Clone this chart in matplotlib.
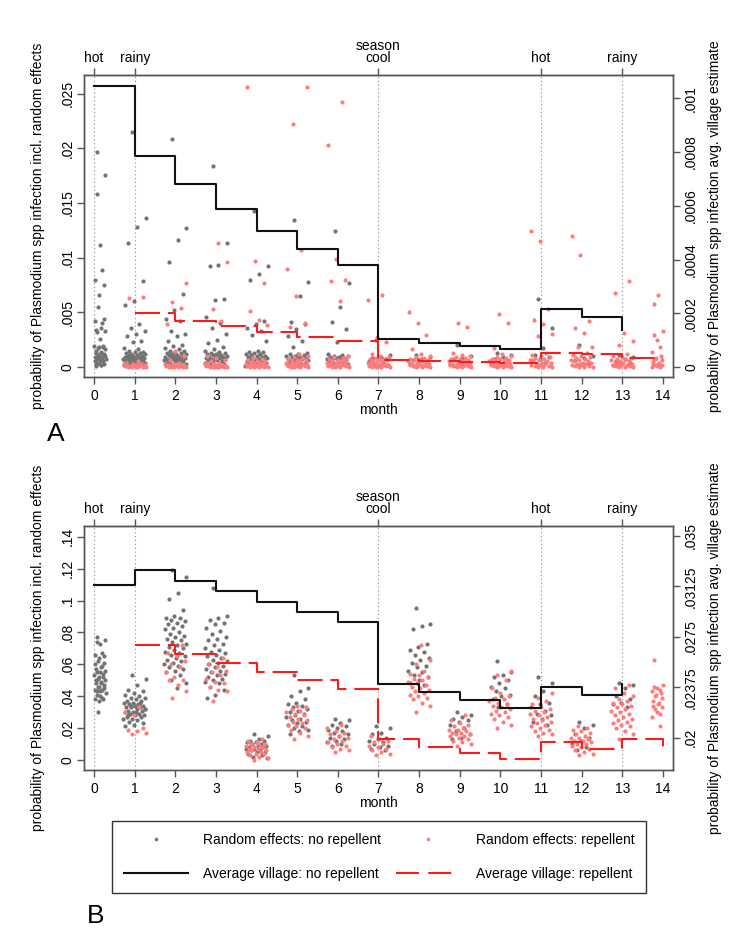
import numpy as np
import matplotlib.pyplot as plt
from matplotlib.lines import Line2D

plt.rcParams['font.family'] = ['Liberation Sans', 'DejaVu Sans']
plt.rcParams['font.size'] = 10

months = np.arange(15)
season_ticks = [0, 1, 7, 11, 13]
season_labels = ['hot', 'rainy', 'cool', 'hot', 'rainy']

# average village estimates (right axis); no repellent: months 0-13, repellent: months 1-14
a_avg_norep = [0.001046, 0.000785, 0.000681, 0.000587, 0.000507, 0.000440, 0.000381,
               0.000104, 0.0000905, 0.0000794, 0.0000682, 0.000215, 0.000187, 0.000138]
a_avg_rep = [0.000200, 0.000172, 0.000153, 0.000129, 0.000113, 0.0000968, 0.000026,
             0.0000223, 0.0000186, 0.0000149, 0.0000532, 0.0000472, 0.0000347, 0.0000335]
b_avg_norep = [0.03138, 0.03247, 0.03165, 0.03089, 0.03011, 0.02935, 0.02863,
               0.02402, 0.02342, 0.02280, 0.02223, 0.02377, 0.02315, 0.02397]
b_avg_rep = [0.02689, 0.02622, 0.02558, 0.02489, 0.02427, 0.02364, 0.01988,
             0.01933, 0.01886, 0.01839, 0.01966, 0.01918, 0.01988, 0.01933]

# village random effects, values in thousandths (x 1e-3)
a_gray = {
    0: [19.7, 17.6, 15.8, 11.2, 8.9, 8.0, 7.5, 6.6, 5.5, 4.4, 4.2, 4.0, 3.6, 3.4, 3.3, 3.2, 2.6, 1.9, 1.9, 1.8,
        1.8, 1.7, 1.6, 1.5, 1.4, 1.3, 1.3, 1.2, 1.1, 1.1, 1.0, 0.9, 0.9, 0.8, 0.8, 0.7, 0.7, 0.6, 0.6, 0.5,
        0.5, 0.4, 0.4, 0.3, 0.3, 0.2, 0.2, 0.1, 1.0, 0.8],
    1: [21.5, 13.6, 12.8, 11.3, 7.9, 6.0, 5.7, 3.9, 3.6, 3.3, 3.0, 2.8, 2.4, 2.3, 1.7, 1.6, 1.5, 1.4, 1.4, 1.3,
        1.3, 1.2, 1.2, 1.1, 1.1, 1.0, 1.0, 0.9, 0.9, 0.9, 0.8, 0.8, 0.8, 0.7, 0.7, 0.7, 0.6, 0.6, 0.6, 0.5,
        0.5, 0.5, 0.4, 0.4, 0.4, 0.3, 0.3, 0.3, 0.2, 0.2, 0.1, 0.1],
    2: [20.9, 12.7, 11.6, 9.6, 6.7, 5.2, 4.4, 4.2, 3.3, 3.0, 2.8, 2.4, 2.0, 1.9, 1.7, 1.6, 1.5, 1.5, 1.4, 1.3,
        1.3, 1.2, 1.2, 1.1, 1.1, 1.0, 1.0, 0.9, 0.9, 0.9, 0.8, 0.8, 0.7, 0.7, 0.7, 0.6, 0.6, 0.5, 0.5, 0.5,
        0.4, 0.4, 0.3, 0.3, 0.2, 0.2, 0.1, 0.1],
    3: [18.4, 11.3, 9.3, 9.2, 6.2, 6.1, 4.6, 4.0, 3.6, 3.0, 2.5, 2.2, 1.8, 1.6, 1.5, 1.4, 1.3, 1.3, 1.2, 1.2,
        1.1, 1.1, 1.0, 1.0, 0.9, 0.9, 0.8, 0.8, 0.8, 0.7, 0.7, 0.6, 0.6, 0.5, 0.5, 0.4, 0.4, 0.3, 0.3, 0.2,
        0.2, 0.1],
    4: [14.3, 9.2, 8.5, 8.0, 4.2, 3.9, 3.6, 3.3, 2.9, 2.4, 1.5, 1.4, 1.4, 1.3, 1.2, 1.2, 1.1, 1.0, 1.0, 0.9,
        0.9, 0.8, 0.8, 0.7, 0.7, 0.6, 0.6, 0.5, 0.5, 0.4, 0.4, 0.3, 0.3, 0.2, 0.2, 0.1],
    5: [13.4, 7.8, 6.5, 4.1, 3.9, 3.5, 2.8, 2.4, 1.8, 1.3, 1.2, 1.2, 1.1, 1.0, 1.0, 0.9, 0.9, 0.8, 0.8, 0.7,
        0.7, 0.6, 0.6, 0.5, 0.5, 0.4, 0.4, 0.3, 0.3, 0.2, 0.2, 0.1],
    6: [12.4, 7.7, 5.5, 4.1, 3.5, 2.3, 1.2, 1.1, 1.0, 1.0, 0.9, 0.9, 0.8, 0.8, 0.7, 0.7, 0.6, 0.6, 0.5, 0.5,
        0.4, 0.4, 0.3, 0.3, 0.2, 0.2, 0.1],
    7: [2.5, 1.1, 0.9, 0.8, 0.7, 0.6, 0.5, 0.4, 0.3, 0.2, 0.1],
    8: [1.1, 0.9, 0.7, 0.6, 0.5, 0.4, 0.3, 0.2, 0.1],
    9: [2.0, 1.0, 0.8, 0.7, 0.5, 0.4, 0.3, 0.2, 0.1],
    10: [1.3, 1.1, 0.9, 0.7, 0.5, 0.4, 0.3, 0.2],
    11: [6.2, 3.6, 1.7, 1.1, 0.9, 0.7, 0.6, 0.4, 0.3],
    12: [2.0, 1.0, 0.8, 0.6, 0.4, 0.3],
    13: [1.1, 0.9, 0.7, 0.5, 0.4, 0.3, 0.2],
}
a_red = {
    1: [6.4, 6.3, 0.5, 0.4, 0.3, 0.3, 0.2, 0.2, 0.2, 0.1, 0.1, 0.1, 0.1, 0.0, 0.0, 0.0, 0.0, 0.0],
    2: [7.7, 5.9, 5.4, 3.9, 1.5, 1.0, 0.6, 0.4, 0.3, 0.3, 0.2, 0.2, 0.2, 0.1, 0.1, 0.1, 0.1, 0.0, 0.0, 0.0,
        0.0, 0.0, 0.0],
    3: [11.3, 9.6, 5.3, 4.2, 1.0, 0.8, 0.6, 0.5, 0.4, 0.3, 0.3, 0.2, 0.2, 0.2, 0.1, 0.1, 0.1, 0.1, 0.0, 0.0,
        0.0, 0.0, 0.0, 0.0],
    4: [25.6, 9.7, 7.7, 5.1, 4.3, 3.8, 0.8, 0.7, 0.6, 0.5, 0.5, 0.4, 0.4, 0.3, 0.3, 0.3, 0.2, 0.2, 0.2, 0.1,
        0.1, 0.1, 0.1, 0.0, 0.0, 0.0, 0.0, 0.0],
    5: [25.6, 22.2, 10.7, 9.0, 6.5, 4.0, 3.7, 1.2, 1.0, 0.9, 0.8, 0.7, 0.6, 0.6, 0.5, 0.5, 0.4, 0.4, 0.3, 0.3,
        0.3, 0.2, 0.2, 0.2, 0.1, 0.1, 0.1, 0.0, 0.0, 0.0, 0.0],
    6: [24.2, 20.3, 9.9, 8.0, 7.9, 6.0, 1.0, 0.9, 0.8, 0.7, 0.6, 0.6, 0.5, 0.5, 0.4, 0.4, 0.3, 0.3, 0.3, 0.2,
        0.2, 0.2, 0.1, 0.1, 0.1, 0.0, 0.0, 0.0, 0.0],
    7: [6.6, 6.1, 2.7, 2.3, 1.2, 1.0, 0.9, 0.8, 0.7, 0.7, 0.6, 0.6, 0.5, 0.5, 0.4, 0.4, 0.3, 0.3, 0.3, 0.2,
        0.2, 0.2, 0.1, 0.1, 0.1, 0.0, 0.0, 0.0, 0.0],
    8: [5.0, 4.0, 2.9, 1.6, 1.2, 1.0, 0.9, 0.8, 0.7, 0.7, 0.6, 0.6, 0.5, 0.5, 0.4, 0.4, 0.3, 0.3, 0.3, 0.2,
        0.2, 0.2, 0.1, 0.1, 0.1, 0.0, 0.0, 0.0],
    9: [4.0, 3.7, 1.3, 1.1, 1.0, 0.9, 0.8, 0.7, 0.7, 0.6, 0.6, 0.5, 0.5, 0.4, 0.4, 0.3, 0.3, 0.3, 0.2, 0.2,
        0.2, 0.1, 0.1, 0.1, 0.0, 0.0, 0.0],
    10: [4.8, 4.0, 1.7, 1.2, 1.0, 0.9, 0.8, 0.7, 0.7, 0.6, 0.6, 0.5, 0.5, 0.4, 0.4, 0.3, 0.3, 0.3, 0.2, 0.2,
         0.2, 0.1, 0.1, 0.1, 0.0, 0.0, 0.0],
    11: [12.4, 11.5, 5.3, 4.3, 3.9, 3.0, 2.8, 1.3, 1.1, 1.0, 0.9, 0.8, 0.7, 0.6, 0.6, 0.5, 0.5, 0.4, 0.4, 0.3,
         0.3, 0.2, 0.2, 0.1, 0.1, 0.0, 0.0, 0.0],
    12: [12.0, 10.2, 4.2, 3.6, 3.1, 1.8, 1.8, 1.3, 1.1, 1.0, 0.9, 0.8, 0.7, 0.6, 0.6, 0.5, 0.5, 0.4, 0.4, 0.3,
         0.3, 0.2, 0.2, 0.1, 0.1, 0.0, 0.0, 0.0],
    13: [7.9, 6.8, 3.1, 2.4, 2.0, 1.2, 1.0, 0.9, 0.8, 0.7, 0.7, 0.6, 0.5, 0.5, 0.4, 0.4, 0.3, 0.3, 0.2, 0.2,
         0.2, 0.1, 0.1, 0.0, 0.0, 0.0],
    14: [6.6, 5.8, 3.3, 2.9, 2.5, 1.8, 1.4, 1.0, 0.8, 0.7, 0.6, 0.5, 0.4, 0.3, 0.3, 0.2, 0.2, 0.1, 0.1, 0.0, 0.0],
}
b_gray = {
    0: [77, 75, 74, 73, 67, 66, 65, 64, 62, 61, 60, 59, 58, 57, 56, 55, 55, 54, 53, 52, 52, 51, 50, 50, 49,
        48, 48, 47, 46, 46, 45, 44, 44, 43, 43, 42, 41, 40, 39, 38, 38, 37, 30],
    1: [53, 51, 47, 44, 43, 42, 41, 40, 39, 39, 38, 37, 37, 36, 36, 35, 35, 34, 34, 33, 33, 33, 32, 32, 31,
        31, 30, 30, 29, 29, 28, 28, 27, 27, 26, 26, 25, 24, 23, 22, 21, 36, 34, 32, 30, 28],
    2: [119, 115, 105, 101, 94, 90, 89, 89, 88, 87, 86, 85, 84, 83, 82, 80, 79, 78, 77, 76, 75, 74, 73, 72,
        71, 70, 69, 68, 67, 66, 65, 64, 63, 62, 61, 60, 59, 58, 57, 56, 55, 53, 50, 48, 45],
    3: [108, 90, 89, 88, 86, 85, 83, 81, 79, 77, 76, 75, 73, 72, 70, 69, 68, 67, 66, 65, 64, 63, 62, 61, 60,
        59, 58, 57, 56, 55, 54, 53, 52, 51, 50, 49, 48, 46, 44, 41, 39],
    4: [16, 15, 13, 12, 12, 11, 11, 10, 10, 9, 9, 8, 8, 7, 7, 6, 6, 5, 5, 4, 3, 2, 1],
    5: [53, 45, 43, 40, 38, 36, 35, 34, 33, 32, 31, 30, 29, 28, 27, 26, 25, 24, 23, 22, 21, 20, 19, 18, 16],
    6: [26, 25, 23, 22, 21, 20, 19, 18, 17, 16, 15, 14, 13, 12, 11, 10, 9],
    7: [21, 20, 17, 16, 14, 13, 12, 11, 10, 9, 8, 7, 6],
    8: [95, 85, 84, 82, 73, 71, 69, 68, 66, 64, 63, 61, 59, 58, 56, 55, 53, 52, 50, 48, 47],
    9: [30, 28, 27, 26, 25, 24, 22, 20, 18, 16, 14, 13],
    10: [62, 55, 53, 52, 50, 48, 46, 45, 43, 41, 40, 38, 35, 33],
    11: [52, 48, 43, 40, 36, 35, 33, 31, 29, 28, 26, 24, 22],
    12: [24, 22, 20, 16, 14, 12, 10, 8, 6],
    13: [48, 47, 45, 40, 38, 36, 35, 33],
}
b_red = {
    1: [33, 30, 28, 20, 19, 18, 17, 16],
    2: [72, 67, 65, 62, 60, 58, 55, 52, 50, 50, 47, 43, 39],
    3: [64, 60, 58, 56, 55, 53, 51, 49, 48, 46, 44, 43, 37],
    4: [13, 12, 11, 10, 10, 9, 9, 8, 8, 7, 7, 6, 6, 5, 5, 4, 4, 3, 2, 1, 0],
    5: [34, 33, 32, 31, 30, 29, 28, 27, 26, 25, 24, 23, 22, 21, 20, 19, 17, 15, 13],
    6: [22, 20, 18, 17, 16, 15, 14, 13, 12, 11, 10, 9, 8, 7, 6, 5],
    7: [15, 13, 12, 11, 10, 9, 8, 7, 6, 5, 4, 3],
    8: [72, 63, 60, 56, 54, 53, 52, 51, 50, 49, 48, 47, 46, 45, 44, 43, 42, 41, 40, 39, 38, 36, 34, 30],
    9: [28, 25, 23, 22, 21, 20, 19, 19, 18, 17, 17, 16, 16, 15, 15, 14, 13, 12, 11, 10, 9],
    10: [56, 53, 50, 45, 42, 40, 39, 38, 37, 36, 35, 34, 33, 32, 31, 30, 29, 28, 27, 26, 24, 22, 20],
    11: [42, 39, 37, 35, 33, 32, 31, 30, 29, 28, 27, 26, 25, 24, 23, 22, 21, 20, 19, 18, 17, 16, 15],
    12: [21, 20, 19, 18, 17, 16, 15, 14, 14, 13, 12, 12, 11, 10, 10, 9, 8, 7, 6, 5, 4, 3],
    13: [47, 45, 42, 40, 38, 37, 36, 35, 34, 33, 32, 31, 30, 29, 28, 27, 26, 25, 24, 23, 22, 21, 20, 18, 16, 13],
    14: [63, 47, 46, 45, 44, 43, 42, 41, 40, 39, 37, 36, 35, 34, 33, 32, 30, 29, 27, 21],
}

GRAY = '#737373'
PINK = '#ff7c7c'
SPINE = '#555555'
DASH = (12, 3.8)


def jitter(m, n):
    # spread the villages of one month sideways, inside the month's slot
    off = 0.28 * (2 * ((np.arange(n) * 0.618034 + 0.37) % 1.0) - 1)
    if m == 0:
        off = np.abs(off)
    if m == 14:
        off = -np.abs(off)
    return m + off


def draw_panel(rect, gray, red, avg_norep, avg_rep, ylim, yticks, ylabels, ylim2, yticks2, ylabels2):
    ax = fig.add_axes(rect)
    for m in season_ticks:
        ax.axvline(m, color='#8a8a8a', lw=0.8, ls=(0, (1, 2.5)), zorder=0)
    for m, vals in gray.items():
        ax.scatter(jitter(m, len(vals)), np.array(vals) * 1e-3, s=9, color=GRAY, linewidths=0, zorder=2)
    for m, vals in red.items():
        ax.scatter(jitter(m, len(vals))[::-1], np.array(vals) * 1e-3, s=9, color=PINK, linewidths=0, zorder=3)
    ax.set_xlim(-0.25, 14.25)
    ax.set_ylim(*ylim)
    ax.set_xticks(months)
    ax.set_yticks(yticks, ylabels)
    ax.set_xlabel('month', labelpad=0)
    ax.set_ylabel('probability of Plasmodium spp infection incl. random effects')
    ax.yaxis.set_label_coords(-0.066, 0.5)
    ax.tick_params(axis='x', length=5, width=1, color=SPINE, pad=3.5)
    ax.tick_params(axis='y', length=5, width=1, color=SPINE, pad=2)
    for lbl in ax.get_yticklabels():
        lbl.set_rotation(90)
        lbl.set_va('center')

    ax2 = ax.twinx()
    ax2.plot(months[:14], avg_norep, drawstyle='steps-post', color='#111111', lw=1.5, zorder=4)
    ax2.plot(months[1:], avg_rep, drawstyle='steps-post', color='#ff1a1a', lw=1.5, dashes=DASH, zorder=4)
    ax2.set_ylim(*ylim2)
    ax2.set_yticks(yticks2, ylabels2)
    ax2.set_ylabel('probability of Plasmodium spp infection avg. village estimate', rotation=90)
    ax2.yaxis.set_label_coords(1.06, 0.5)
    ax2.tick_params(axis='y', length=5, width=1, color=SPINE, pad=3)
    for lbl in ax2.get_yticklabels():
        lbl.set_rotation(90)
        lbl.set_va('center')

    top = ax.secondary_xaxis('top')
    top.set_xticks(season_ticks, season_labels)
    top.set_xlabel('season', labelpad=1)
    top.tick_params(length=5, width=1, color=SPINE, pad=2)
    top.spines['top'].set_color(SPINE)
    for a in (ax, ax2):
        for sp in a.spines.values():
            sp.set_color(SPINE)
            sp.set_linewidth(1.0)
    return ax


fig = plt.figure(figsize=(7.5, 9.34), dpi=100)

draw_panel([0.112, 0.5964, 0.7853, 0.3233], a_gray, a_red, a_avg_norep, a_avg_rep,
           (-0.000915, 0.02671), [0, 0.005, 0.01, 0.015, 0.02, 0.025],
           ['0', '.005', '.01', '.015', '.02', '.025'],
           (-0.0000372, 0.001087), [0, 0.0002, 0.0004, 0.0006, 0.0008, 0.001],
           ['0', '.0002', '.0004', '.0006', '.0008', '.001'])

draw_panel([0.112, 0.1756, 0.7853, 0.2612], b_gray, b_red, b_avg_norep, b_avg_rep,
           (-0.00627, 0.1467), [0, 0.02, 0.04, 0.06, 0.08, 0.1, 0.12, 0.14],
           ['0', '.02', '.04', '.06', '.08', '.1', '.12', '.14'],
           (0.0176, 0.03574), [0.02, 0.02375, 0.0275, 0.03125, 0.035],
           ['.02', '.02375', '.0275', '.03125', '.035'])

fig.text(0.075, 0.535, 'A', fontsize=19, ha='center', va='center')
fig.text(0.127, 0.0193, 'B', fontsize=19, ha='center', va='center')

handles = [
    Line2D([], [], ls='none', marker='o', ms=2.6, mew=0, color=GRAY),
    Line2D([], [], color='#111111', lw=1.5),
    Line2D([], [], ls='none', marker='o', ms=2.6, mew=0, color=PINK),
    Line2D([], [], color='#ff1a1a', lw=1.5, dashes=(11, 4.5)),
]
labels = ['Random effects: no repellent', 'Average village: no repellent',
          'Random effects: repellent', 'Average village: repellent']
leg = fig.legend(handles, labels, ncol=2, loc='upper left', mode='expand',
                 bbox_to_anchor=(0.14, 0.0464, 0.7307, 0.0821),
                 handlelength=4.6, handletextpad=1.1, labelspacing=1.45, borderpad=0.85,
                 fancybox=False, edgecolor='#333333', framealpha=1, numpoints=1)
leg.get_frame().set_linewidth(1.0)

fig.savefig('out.png', dpi=100)
